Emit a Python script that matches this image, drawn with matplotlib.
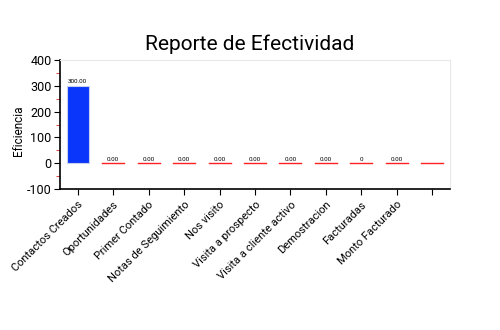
import matplotlib
matplotlib.use("Agg")
import matplotlib.pyplot as plt
from matplotlib.ticker import MultipleLocator

categories = ["Contactos Creados", "Oportunidades", "Primer Contado", "Notas de Seguimiento",
              "Nos visito", "Visita a prospecto", "Visita a cliente activo", "Demostracion",
              "Facturadas", "Monto Facturado", ""]
values = [300, 0, 0, 0, 0, 0, 0, 0, 0, 0, 0]
value_labels = ["300.00", "0.00", "0.00", "0.00", "0.00", "0.00", "0.00", "0.00", "0", "0.00", ""]

plt.rcParams['font.family'] = ['Roboto', 'DejaVu Sans']
plt.rcParams['axes.unicode_minus'] = False
fig = plt.figure(figsize=(5, 3.3), dpi=100)
ax = fig.add_axes([0.12, 0.427, 0.78, 0.391])

x = list(range(len(categories)))
for xi, v, lab in zip(x, values, value_labels):
    if v > 0:
        ax.bar(xi, v, width=0.62, color="#0a35fa", edgecolor="#c8d0f0", linewidth=0.8, zorder=3)
    else:
        ax.plot([xi - 0.31, xi + 0.31], [v, v], color="#ff2020", linewidth=1.0, zorder=3)
    if lab:
        ax.text(xi, v + 6, lab, ha="center", va="bottom", fontsize=4.5, zorder=4)

ax.set_xlim(-0.5, 10.5)
ax.set_ylim(-100, 400)
ax.yaxis.set_major_locator(MultipleLocator(100))
ax.yaxis.set_minor_locator(MultipleLocator(50))
ax.tick_params(axis="y", which="minor", colors="#dd2222", length=3)
ax.tick_params(axis="y", which="major", length=4, labelsize=9, pad=2)
ax.set_xticks(x)
ax.set_xticklabels(categories, rotation=45, ha="right", rotation_mode="anchor", fontsize=8)
ax.tick_params(axis="x", length=4)

ax.spines["top"].set_color("#e8e8e8")
ax.spines["right"].set_color("#e8e8e8")
ax.spines["left"].set_linewidth(1.2)
ax.spines["bottom"].set_linewidth(1.2)

ax.set_ylabel("Eficiencia", fontsize=8.5)
ax.yaxis.set_label_coords(-0.09, 0.45)
fig.text(0.5, 0.865, "Reporte de Efectividad", ha="center", va="center", fontsize=15)

fig.savefig("out.png", dpi=100)
